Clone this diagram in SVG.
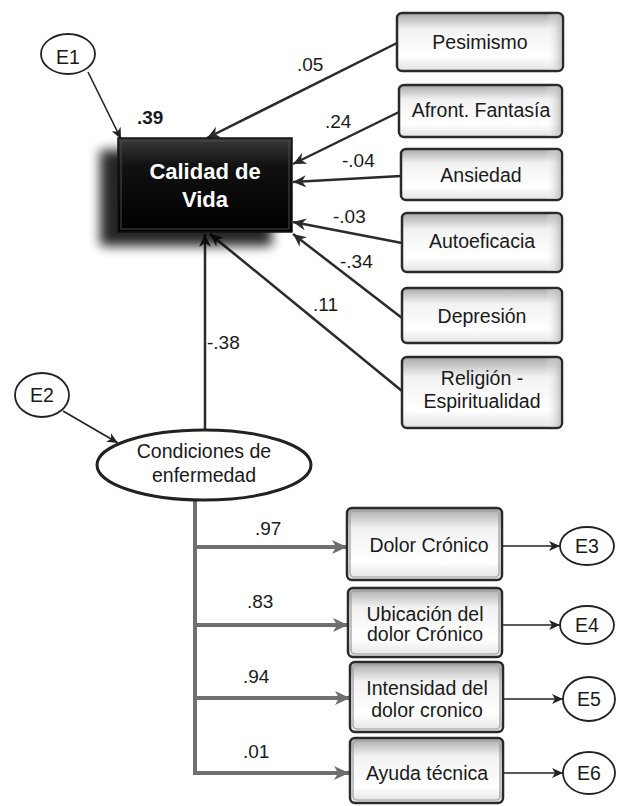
<svg xmlns="http://www.w3.org/2000/svg" width="621" height="806" viewBox="0 0 621 806">
<defs>
<linearGradient id="bevel" x1="0" y1="0" x2="0" y2="1">
<stop offset="0" stop-color="#a9a9a9"/>
<stop offset="0.28" stop-color="#f2f2f2"/>
<stop offset="0.75" stop-color="#ffffff"/>
<stop offset="1" stop-color="#e2e2e2"/>
</linearGradient>
<linearGradient id="side" x1="0" y1="0" x2="1" y2="0">
<stop offset="0" stop-color="#ffffff" stop-opacity="0"/>
<stop offset="0.9" stop-color="#ffffff" stop-opacity="0"/>
<stop offset="1" stop-color="#b5b5b5" stop-opacity="0.8"/>
</linearGradient>
<linearGradient id="dark" x1="0" y1="0" x2="0" y2="1">
<stop offset="0" stop-color="#3a3a3a"/>
<stop offset="0.3" stop-color="#111"/>
<stop offset="1" stop-color="#000"/>
</linearGradient>
<filter id="blur" x="-30%" y="-30%" width="160%" height="160%">
<feGaussianBlur stdDeviation="6"/>
</filter>
<marker id="ad" markerUnits="userSpaceOnUse" markerWidth="14" markerHeight="12" refX="13" refY="6" orient="auto">
<path d="M0,0 L13,6 L0,12 L4,6 z" fill="#2b2b2b"/>
</marker>
<marker id="at" markerUnits="userSpaceOnUse" markerWidth="12" markerHeight="10" refX="11" refY="5" orient="auto">
<path d="M0,0 L11,5 L0,10 L3,5 z" fill="#222"/>
</marker>
<marker id="ag" markerUnits="userSpaceOnUse" markerWidth="16" markerHeight="14" refX="15" refY="7" orient="auto">
<path d="M0,0 L15,7 L0,14 L4,7 z" fill="#6e6e6e"/>
</marker>
<style>
text{font-family:"Liberation Sans",Arial,sans-serif;fill:#1a1a1a}
.nt{font-size:19.5px;text-anchor:middle}
.lb{font-size:19px}
.box{fill:url(#bevel);stroke:#2a2a2a;stroke-width:2.5}
.sd{fill:url(#side);stroke:none}
.dbl{fill:none;stroke:#9a9a9a;stroke-width:1.2}
.ell{fill:#fff;stroke:#222;stroke-width:1.8}
.ell2{fill:#fff;stroke:#222;stroke-width:3}
.cd{fill:none;stroke:#2b2b2b;stroke-width:2.5}
.ct{fill:none;stroke:#222;stroke-width:1.6}
.cg{fill:none;stroke:#707070;stroke-width:4}
</style>
</defs>

<g id="connectors">
<line class="ct" x1="88" y1="72" x2="121" y2="139" marker-end="url(#at)"/>
<line class="ct" x1="63" y1="411" x2="118" y2="443" marker-end="url(#at)"/>
<line class="cd" x1="397" y1="43" x2="207" y2="138" marker-end="url(#ad)"/>
<line class="cd" x1="399" y1="112" x2="293" y2="164" marker-end="url(#ad)"/>
<line class="cd" x1="401" y1="176" x2="293" y2="182" marker-end="url(#ad)"/>
<line class="cd" x1="402" y1="243" x2="293" y2="222" marker-end="url(#ad)"/>
<line class="cd" x1="402" y1="318" x2="293" y2="234" marker-end="url(#ad)"/>
<line class="cd" x1="402" y1="391" x2="210" y2="234" marker-end="url(#ad)"/>
<line class="cd" x1="205" y1="430" x2="205" y2="234" marker-end="url(#ad)"/>
<polyline class="cg" points="195,500 195,773 349,773" marker-end="url(#ag)"/>
<line class="cg" x1="195" y1="547" x2="347" y2="547" marker-end="url(#ag)"/>
<line class="cg" x1="195" y1="625" x2="348" y2="625" marker-end="url(#ag)"/>
<line class="cg" x1="195" y1="698" x2="350" y2="698" marker-end="url(#ag)"/>
<line class="ct" x1="502" y1="546" x2="560" y2="546" marker-end="url(#at)"/>
<line class="ct" x1="502" y1="625" x2="560" y2="625" marker-end="url(#at)"/>
<line class="ct" x1="503" y1="699" x2="563" y2="699" marker-end="url(#at)"/>
<line class="ct" x1="503" y1="773" x2="563" y2="773" marker-end="url(#at)"/>
<text class="lb" x="297" y="71">.05</text>
<text class="lb" x="325" y="128">.24</text>
<text class="lb" x="342" y="167">-.04</text>
<text class="lb" x="333" y="223">-.03</text>
<text class="lb" x="340" y="268">-.34</text>
<text class="lb" x="313" y="311">.11</text>
<text class="lb" x="207" y="349">-.38</text>
<text class="lb" x="255" y="535">.97</text>
<text class="lb" x="247" y="608">.83</text>
<text class="lb" x="243" y="683">.94</text>
<text class="lb" x="243" y="758">.01</text>
</g>

<g id="E1">
<ellipse class="ell" cx="68" cy="54" rx="27" ry="20"/>
<text class="nt" x="68" y="64">E1</text>
</g>

<g id="calidad">
<rect x="100" y="150" width="172" height="96" fill="#000" opacity="0.85" filter="url(#blur)"/>
<rect x="118" y="138" width="174" height="94" fill="url(#dark)" stroke="#111" stroke-width="1.5"/>
<rect x="121" y="141" width="168" height="88" fill="none" stroke="#4a4a4a" stroke-width="1"/>
<text x="205" y="179" style="font-size:22px;font-weight:bold;fill:#fff;text-anchor:middle">Calidad de</text>
<text x="205" y="207" style="font-size:22px;font-weight:bold;fill:#fff;text-anchor:middle">Vida</text>
<text x="137" y="124" style="font-size:19px;font-weight:bold">.39</text>
</g>

<g id="pesimismo">
<rect class="box" x="397" y="13" width="166" height="58" rx="5"/>
<rect class="sd" x="398" y="14" width="164" height="56" rx="5"/>
<text class="nt" x="480" y="49">Pesimismo</text>
</g>
<g id="afront">
<rect class="box" x="399" y="85" width="163" height="52" rx="5"/>
<rect class="sd" x="400" y="86" width="161" height="50" rx="5"/>
<text class="nt" x="481" y="117">Afront. Fantasía</text>
</g>
<g id="ansiedad">
<rect class="box" x="401" y="149" width="161" height="51" rx="5"/>
<rect class="sd" x="402" y="150" width="159" height="49" rx="5"/>
<text class="nt" x="481" y="182">Ansiedad</text>
</g>
<g id="autoeficacia">
<rect class="box" x="402" y="213" width="160" height="59" rx="5"/>
<rect class="sd" x="403" y="214" width="158" height="57" rx="5"/>
<text class="nt" x="482" y="248">Autoeficacia</text>
</g>
<g id="depresion">
<rect class="box" x="402" y="288" width="160" height="55" rx="5"/>
<rect class="sd" x="403" y="289" width="158" height="53" rx="5"/>
<text class="nt" x="482" y="323">Depresión</text>
</g>
<g id="religion">
<rect class="box" x="402" y="357" width="160" height="71" rx="5"/>
<rect class="sd" x="403" y="358" width="158" height="69" rx="5"/>
<text class="nt" x="482" y="385">Religión -</text>
<text class="nt" x="482" y="408">Espiritualidad</text>
</g>

<g id="E2">
<ellipse class="ell" cx="42" cy="395" rx="27" ry="22"/>
<text class="nt" x="42" y="402">E2</text>
</g>

<g id="condiciones">
<ellipse class="ell2" cx="204" cy="465" rx="107" ry="35"/>
<text class="nt" x="204" y="458">Condiciones de</text>
<text class="nt" x="204" y="482">enfermedad</text>
</g>

<g id="dolor">
<rect class="box" x="347" y="508" width="155" height="72" rx="5"/>
<rect class="dbl" x="350" y="511" width="149" height="66" rx="4"/>
<text class="nt" x="429" y="552">Dolor Crónico</text>
</g>
<g id="ubicacion">
<rect class="box" x="348" y="588" width="154" height="69" rx="5"/>
<rect class="dbl" x="351" y="591" width="148" height="63" rx="4"/>
<text class="nt" x="425" y="621">Ubicación del</text>
<text class="nt" x="425" y="641">dolor Crónico</text>
</g>
<g id="intensidad">
<rect class="box" x="350" y="662" width="153" height="70" rx="5"/>
<rect class="dbl" x="353" y="665" width="147" height="64" rx="4"/>
<text class="nt" x="427" y="695">Intensidad del</text>
<text class="nt" x="427" y="717">dolor cronico</text>
</g>
<g id="ayuda">
<rect class="box" x="350" y="738" width="153" height="65" rx="5"/>
<rect class="dbl" x="353" y="741" width="147" height="59" rx="4"/>
<text class="nt" x="427" y="780">Ayuda técnica</text>
</g>

<g id="E3">
<ellipse class="ell" cx="587" cy="546" rx="27" ry="19"/>
<text class="nt" x="587" y="553">E3</text>
</g>
<g id="E4">
<ellipse class="ell" cx="587" cy="625" rx="27" ry="19"/>
<text class="nt" x="587" y="632">E4</text>
</g>
<g id="E5">
<ellipse class="ell" cx="589" cy="699" rx="26" ry="22"/>
<text class="nt" x="589" y="706">E5</text>
</g>
<g id="E6">
<ellipse class="ell" cx="589" cy="773" rx="26" ry="21"/>
<text class="nt" x="589" y="780">E6</text>
</g>
</svg>
